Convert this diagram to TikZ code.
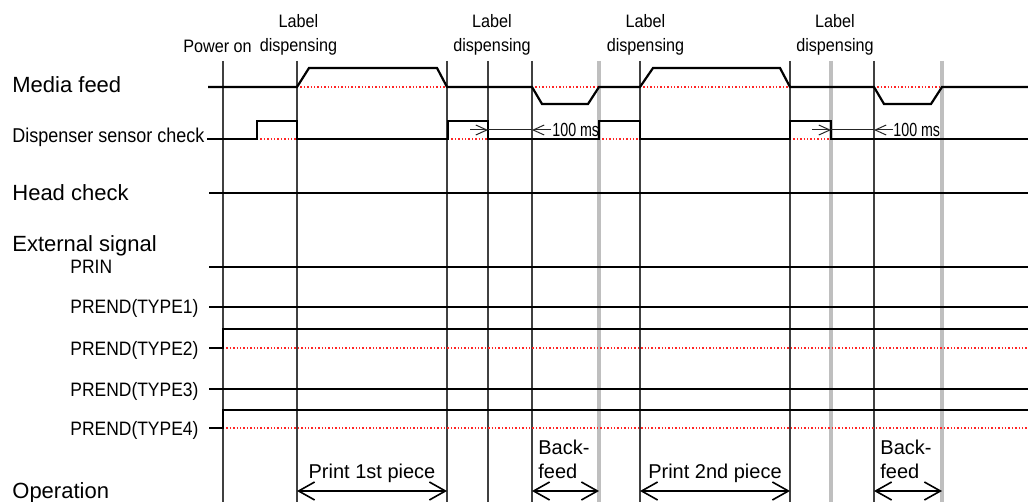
\documentclass[tikz,border=0pt]{standalone}
\usepackage{fontspec}
\setmainfont{Liberation Sans}
\newfontfamily\condfont[FakeStretch=0.9]{Liberation Sans}
\newfontfamily\narrowfont[FakeStretch=0.75]{Liberation Sans}
\usetikzlibrary{arrows.meta}

\begin{document}
\begin{tikzpicture}[
  x=0.5pt, y=-0.5pt,
  timeline/.style={draw=black!75, line width=0.6pt},
  greyline/.style={draw=black!25, line width=1.6pt},
  sigline/.style={draw=black, line width=1.1pt},
  lowref/.style={draw=red!85, line width=0.7pt, densely dotted},
  dimline/.style={draw=black!85, line width=0.5pt, >={Straight Barb[length=5.5pt,width=5pt]}},
  oparrow/.style={draw=black, line width=0.8pt, >={Straight Barb[length=8pt,width=9pt]}, <->},
  rowlab/.style={anchor=base west, inner sep=0pt, font=\fontsize{11}{13}\selectfont},
  senslab/.style={anchor=base west, inner sep=0pt, font=\condfont\fontsize{10}{12}\selectfont},
  sublab/.style={anchor=base west, inner sep=0pt, font=\condfont\fontsize{9.7}{12}\selectfont},
  toplab/.style={anchor=south, inner sep=0pt, align=center, font=\condfont\fontsize{9}{12}\selectfont},
  oplab/.style={inner sep=0pt, align=left, font=\fontsize{10}{12}\selectfont},
  mslab/.style={anchor=base west, inner sep=0pt, font=\narrowfont\fontsize{9.5}{11}\selectfont}
]
\useasboundingbox (0,0) rectangle (1028,502);

% time marks
\draw[timeline] (223,61) -- (223,502);
\draw[timeline] (297,61) -- (297,502);
\draw[timeline] (447,61) -- (447,502);
\draw[timeline] (488,61) -- (488,502);
\draw[timeline] (532,61) -- (532,502);
\draw[timeline] (640,61) -- (640,502);
\draw[timeline] (790,61) -- (790,502);
\draw[timeline] (874,61) -- (874,502);
\draw[greyline] (599,61) -- (599,502);
\draw[greyline] (831,61) -- (831,502);
\draw[greyline] (942,61) -- (942,502);

% top labels
\node[toplab, anchor=base] (pwr) at (217.5,53) {Power on};
\node[toplab] (disp1) at (298.5,56) {Label\\dispensing};
\node[toplab] (disp2) at (492,56) {Label\\dispensing};
\node[toplab] (disp3) at (645.5,56) {Label\\dispensing};
\node[toplab] (disp4) at (835,56) {Label\\dispensing};

% row labels
\node[rowlab] (media) at (12,93) {Media feed};
\node[senslab] (sensor) at (12,143) {Dispenser sensor check};
\node[rowlab] (head) at (12,201) {Head check};
\node[rowlab] (ext) at (12,251.5) {External signal};
\node[sublab] (prin) at (70,274) {PRIN};
\node[sublab] (type1) at (70,314) {PREND(TYPE1)};
\node[sublab] (type2) at (70,355) {PREND(TYPE2)};
\node[sublab] (type3) at (70,396) {PREND(TYPE3)};
\node[sublab] (type4) at (70,435) {PREND(TYPE4)};
\node[rowlab] (oper) at (12,498) {Operation};

% low levels
\draw[lowref] (297,87) -- (447,87);
\draw[lowref] (532,87) -- (599,87);
\draw[lowref] (640,87) -- (790,87);
\draw[lowref] (874,87) -- (942,87);
\draw[lowref] (257,139) -- (297,139);
\draw[lowref] (448,139) -- (488,139);
\draw[lowref] (599,139) -- (640,139);
\draw[lowref] (790,139) -- (831,139);
\draw[lowref] (223,348) -- (1028,348);
\draw[lowref] (223,428) -- (1028,428);

% signals
\draw[sigline] (208,87) -- (297,87) -- (309,68) -- (437,68) -- (447,87) -- (532,87) -- (542,104) -- (588,104) -- (599,87)
  -- (640,87) -- (653,68) -- (780,68) -- (790,87) -- (874,87) -- (884,104) -- (931,104) -- (942,87) -- (1028,87);
\draw[sigline] (207,139) -- (257,139) -- (257,121) -- (297,121) -- (297,139) -- (448,139) -- (448,121) -- (488,121) -- (488,139)
  -- (599,139) -- (599,121) -- (640,121) -- (640,139) -- (790,139) -- (790,121) -- (831,121) -- (831,139) -- (1028,139);
\draw[sigline] (209,193) -- (1028,193);
\draw[sigline] (209,267) -- (1028,267);
\draw[sigline] (209,307) -- (1028,307);
\draw[sigline] (209,348) -- (223,348) -- (223,329) -- (1028,329);
\draw[sigline] (209,389) -- (1028,389);
\draw[sigline] (209,428) -- (223,428) -- (223,410) -- (1028,410);

% 100 ms
\draw[dimline,->] (470,130) -- (488,130);
\draw[dimline] (488,130) -- (532,130);
\draw[dimline,->] (551,130) -- (532,130);
\node[mslab] (ms1) at (552,136.5) {100 ms};
\draw[dimline,->] (812,130) -- (831,130);
\draw[dimline] (831,130) -- (874,130);
\draw[dimline,->] (893,130) -- (874,130);
\node[mslab] (ms2) at (893,136.5) {100 ms};

% operation
\draw[oparrow] (297,491) -- (447,491);
\draw[oparrow] (532,491) -- (599,491);
\draw[oparrow] (640,491) -- (790,491);
\draw[oparrow] (874,491) -- (942,491);
\node[oplab, anchor=base] (print1) at (372,478) {Print 1st piece};
\node[oplab, anchor=south west] (back1) at (538,479) {Back-\\feed};
\node[oplab, anchor=base] (print2) at (715,478) {Print 2nd piece};
\node[oplab, anchor=south west] (back2) at (880,479) {Back-\\feed};
\end{tikzpicture}
\end{document}
